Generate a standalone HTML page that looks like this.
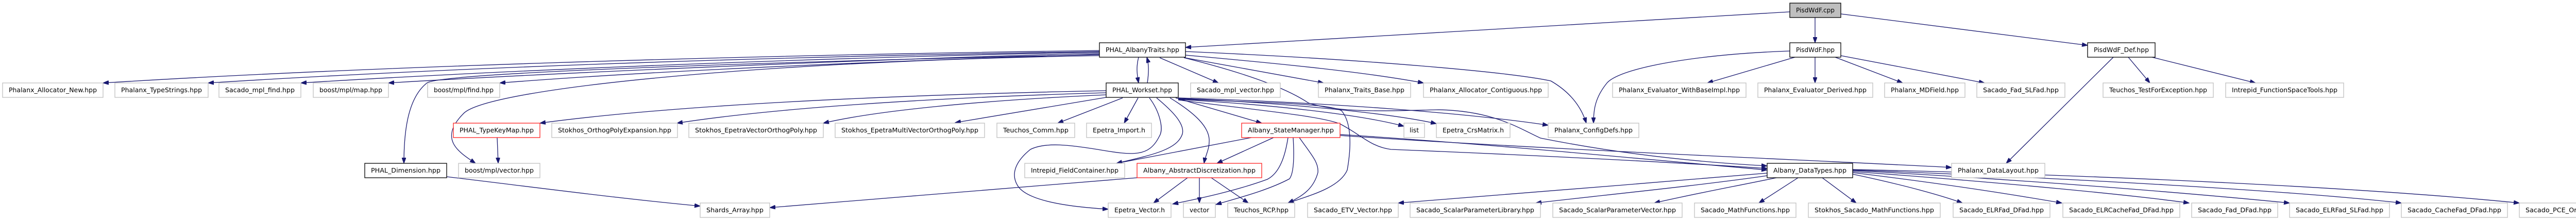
<!DOCTYPE html>
<html><head><meta charset="utf-8"><style>
html,body{margin:0;padding:0;background:#fff;}
svg{display:block;}
rect{fill:#fff;stroke:#bfbfbf;stroke-width:1.3;}
rect.k{stroke:#000;}
rect.r{stroke:#ff2020;}
rect.root{fill:#bfbfbf;stroke:#000;}
text{font-family:"DejaVu Sans","Liberation Sans",sans-serif;font-size:12px;fill:#000;text-anchor:middle;}
path{fill:none;stroke:#191970;stroke-width:1.3;}
</style></head><body>
<svg width="5103" height="427" viewBox="0 0 5103 427" xmlns="http://www.w3.org/2000/svg">
<defs><marker id="a" markerWidth="12" markerHeight="8" refX="11" refY="4" orient="auto" markerUnits="userSpaceOnUse"><path d="M0,0 L11,4 L0,8 Z" style="fill:#191970;stroke:#191970;stroke-width:1"/></marker></defs>
<g marker-end="url(#a)">
<!-- PisdWdF.cpp -->
<path d="M3474,23 L2301,92"/>
<path d="M3523,34 L3523,83"/>
<path d="M3573,27 L4052,88"/>
<!-- AlbanyTraits -> row2 left -->
<path d="M2134,98 C1400,108 700,130 200,161"/>
<path d="M2134,100 C1500,110 900,130 404,161"/>
<path d="M2134,101 C1600,112 1000,135 584,161"/>
<path d="M2134,103 C1700,115 1100,140 754,161"/>
<path d="M2134,105 C1750,118 1300,135 970,161"/>
<path d="M2134,106 C1500,120 880,140 830,160 C790,190 784,260 784,317"/>
<path d="M2134,108 C1500,118 950,170 900,220 C850,270 890,295 923,317"/>
<path d="M2210,111 C2205,130 2207,145 2210,161"/>
<path d="M2251,112 L2365,161"/>
<path d="M2299,112 L2569,161"/>
<path d="M2301,107 C2500,125 2650,140 2763,161"/>
<path d="M2301,100 C2650,115 2930,140 3010,157 C3050,180 3070,210 3079,239"/>
<path d="M2298,112 C2450,150 2510,180 2540,200 C2600,220 2700,215 2792,213 C2900,215 2950,250 2990,268 C3150,300 3300,315 3430,322"/>
<!-- Workset -->
<path d="M2227,161 C2230,140 2230,125 2226,111"/>
<path d="M2147,176 C1700,185 1300,205 1048,239"/>
<path d="M2147,180 C1800,190 1500,210 1314,239"/>
<path d="M2147,184 C1900,195 1700,215 1598,239"/>
<path d="M2147,189 L1854,238"/>
<path d="M2179,190 L2053,239"/>
<path d="M2209,190 L2182,239"/>
<path d="M2231,190 C2250,215 2260,250 2250,265 C2230,305 2200,302 2130,290 C2080,282 2030,275 2000,290 C1975,310 1960,335 1975,360 C1990,385 2050,400 2151,406"/>
<path d="M2245,190 C2275,215 2300,240 2295,260 C2285,290 2240,300 2167,317"/>
<path d="M2271,190 C2320,220 2345,245 2347,270 C2348,290 2340,300 2337,317"/>
<path d="M2282,190 L2449,239"/>
<path d="M2287,192 C2450,200 2580,200 2604,215 C2625,240 2622,290 2615,330 C2600,365 2540,380 2500,394"/>
<path d="M2287,193 C2500,205 2650,225 2725,245"/>
<path d="M2287,191 C2500,200 2700,220 2788,240"/>
<path d="M2287,190 C2600,200 2850,220 3005,243"/>
<path d="M2287,194 C2450,215 2560,225 2600,240 C2640,260 2660,285 2700,290 C2950,300 3250,315 3430,327"/>
<!-- StateManager -->
<path d="M2429,267 L2167,317"/>
<path d="M2472,267 L2362,317"/>
<path d="M2500,267 C2495,300 2485,335 2460,348 C2400,370 2330,385 2276,396"/>
<path d="M2510,267 C2512,300 2512,335 2503,347 C2460,370 2400,385 2360,397"/>
<path d="M2522,267 C2545,300 2560,315 2558,335 C2550,365 2530,380 2500,394"/>
<path d="M2601,261 C2900,280 3200,310 3430,330"/>
<path d="M2601,263 C3000,290 3500,310 3788,325"/>
<!-- AbstractDiscretization -->
<path d="M2305,345 L2239,394"/>
<path d="M2328,345 L2328,394"/>
<path d="M2351,345 L2423,394"/>
<path d="M2207,345 C1900,370 1650,390 1494,403"/>
<!-- others -->
<path d="M867,343 C1050,365 1200,385 1359,400"/>
<path d="M965,267 L967,317"/>
<!-- PisdWdF.hpp -->
<path d="M3474,99 C3300,105 3150,130 3120,160 C3095,190 3093,215 3093,239"/>
<path d="M3484,111 L3314,161"/>
<path d="M3523,111 L3523,161"/>
<path d="M3562,111 L3693,161"/>
<path d="M3573,108 L3852,161"/>
<!-- PisdWdF_Def -->
<path d="M4102,111 L3894,317"/>
<path d="M4131,111 L4173,161"/>
<path d="M4177,111 L4378,161"/>
<!-- DataTypes -> row5 -->
<path d="M3430,336 C3200,355 2900,380 2714,394"/>
<path d="M3430,341 C3300,360 3100,380 2981,394"/>
<path d="M3448,345 C3350,365 3270,380 3211,394"/>
<path d="M3490,345 L3414,394"/>
<path d="M3537,345 L3603,394"/>
<path d="M3596,338 C3700,360 3770,380 3809,394"/>
<path d="M3596,335 C3800,360 3920,380 4002,394"/>
<path d="M3596,333 C3900,355 4150,380 4249,394"/>
<path d="M3596,331 C3950,350 4250,375 4444,394"/>
<path d="M3596,330 C4000,345 4450,370 4661,394"/>
<path d="M3596,329 C4100,340 4600,365 4890,394"/>
</g>
<!-- nodes -->
<rect class="root" x="3474" y="6" width="99" height="28"/><text x="3523.5" y="24" textLength="75" lengthAdjust="spacingAndGlyphs">PisdWdF.cpp</text>
<rect class="k" x="2134" y="83" width="167" height="28"/><text x="2217.5" y="101" textLength="143" lengthAdjust="spacingAndGlyphs">PHAL_AlbanyTraits.hpp</text>
<rect class="k" x="3474" y="83" width="99" height="28"/><text x="3523.5" y="101" textLength="75" lengthAdjust="spacingAndGlyphs">PisdWdF.hpp</text>
<rect class="k" x="4052" y="83" width="131" height="28"/><text x="4117.5" y="101" textLength="107" lengthAdjust="spacingAndGlyphs">PisdWdF_Def.hpp</text>

<rect x="5" y="161" width="195" height="28"/><text x="102.5" y="179" textLength="171" lengthAdjust="spacingAndGlyphs">Phalanx_Allocator_New.hpp</text>
<rect x="223" y="161" width="181" height="28"/><text x="313.5" y="179" textLength="157" lengthAdjust="spacingAndGlyphs">Phalanx_TypeStrings.hpp</text>
<rect x="425" y="161" width="159" height="28"/><text x="504.5" y="179" textLength="135" lengthAdjust="spacingAndGlyphs">Sacado_mpl_find.hpp</text>
<rect x="608" y="161" width="146" height="28"/><text x="681" y="179" textLength="122" lengthAdjust="spacingAndGlyphs">boost/mpl/map.hpp</text>
<rect x="830" y="161" width="140" height="28"/><text x="900" y="179" textLength="116" lengthAdjust="spacingAndGlyphs">boost/mpl/find.hpp</text>
<rect class="k" x="2147" y="161" width="140" height="28"/><text x="2217" y="179" textLength="116" lengthAdjust="spacingAndGlyphs">PHAL_Workset.hpp</text>
<rect x="2311" y="161" width="174" height="28"/><text x="2398" y="179" textLength="150" lengthAdjust="spacingAndGlyphs">Sacado_mpl_vector.hpp</text>
<rect x="2559" y="161" width="179" height="28"/><text x="2648.5" y="179" textLength="155" lengthAdjust="spacingAndGlyphs">Phalanx_Traits_Base.hpp</text>
<rect x="2763" y="161" width="242" height="28"/><text x="2884" y="179" textLength="218" lengthAdjust="spacingAndGlyphs">Phalanx_Allocator_Contiguous.hpp</text>
<rect x="3130" y="161" width="259" height="28"/><text x="3259.5" y="179" textLength="235" lengthAdjust="spacingAndGlyphs">Phalanx_Evaluator_WithBaseImpl.hpp</text>
<rect x="3412" y="161" width="223" height="28"/><text x="3523.5" y="179" textLength="199" lengthAdjust="spacingAndGlyphs">Phalanx_Evaluator_Derived.hpp</text>
<rect x="3658" y="161" width="156" height="28"/><text x="3736" y="179" textLength="132" lengthAdjust="spacingAndGlyphs">Phalanx_MDField.hpp</text>
<rect x="3837" y="161" width="171" height="28"/><text x="3922.5" y="179" textLength="147" lengthAdjust="spacingAndGlyphs">Sacado_Fad_SLFad.hpp</text>
<rect x="4082" y="161" width="214" height="28"/><text x="4189" y="179" textLength="190" lengthAdjust="spacingAndGlyphs">Teuchos_TestForException.hpp</text>
<rect x="4320" y="161" width="229" height="28"/><text x="4434.5" y="179" textLength="205" lengthAdjust="spacingAndGlyphs">Intrepid_FunctionSpaceTools.hpp</text>

<rect class="r" x="880" y="239" width="168" height="28"/><text x="964" y="257" textLength="144" lengthAdjust="spacingAndGlyphs">PHAL_TypeKeyMap.hpp</text>
<rect x="1071" y="239" width="244" height="28"/><text x="1193" y="257" textLength="220" lengthAdjust="spacingAndGlyphs">Stokhos_OrthogPolyExpansion.hpp</text>
<rect x="1337" y="239" width="261" height="28"/><text x="1467.5" y="257" textLength="237" lengthAdjust="spacingAndGlyphs">Stokhos_EpetraVectorOrthogPoly.hpp</text>
<rect x="1621" y="239" width="290" height="28"/><text x="1766" y="257" textLength="266" lengthAdjust="spacingAndGlyphs">Stokhos_EpetraMultiVectorOrthogPoly.hpp</text>
<rect x="1935" y="239" width="151" height="28"/><text x="2010.5" y="257" textLength="127" lengthAdjust="spacingAndGlyphs">Teuchos_Comm.hpp</text>
<rect x="2109" y="239" width="126" height="28"/><text x="2172" y="257" textLength="102" lengthAdjust="spacingAndGlyphs">Epetra_Import.h</text>
<rect class="r" x="2410" y="239" width="191" height="28"/><text x="2505.5" y="257" textLength="167" lengthAdjust="spacingAndGlyphs">Albany_StateManager.hpp</text>
<rect x="2725" y="239" width="40" height="28"/><text x="2745" y="257" textLength="18" lengthAdjust="spacingAndGlyphs">list</text>
<rect x="2788" y="239" width="143" height="28"/><text x="2859.5" y="257" textLength="119" lengthAdjust="spacingAndGlyphs">Epetra_CrsMatrix.h</text>
<rect x="3005" y="239" width="176" height="28"/><text x="3093" y="257" textLength="152" lengthAdjust="spacingAndGlyphs">Phalanx_ConfigDefs.hpp</text>

<rect class="k" x="708" y="317" width="159" height="28"/><text x="787.5" y="335" textLength="135" lengthAdjust="spacingAndGlyphs">PHAL_Dimension.hpp</text>
<rect x="890" y="317" width="158" height="28"/><text x="969" y="335" textLength="134" lengthAdjust="spacingAndGlyphs">boost/mpl/vector.hpp</text>
<rect x="1989" y="317" width="194" height="28"/><text x="2086" y="335" textLength="170" lengthAdjust="spacingAndGlyphs">Intrepid_FieldContainer.hpp</text>
<rect class="r" x="2207" y="317" width="242" height="28"/><text x="2328" y="335" textLength="218" lengthAdjust="spacingAndGlyphs">Albany_AbstractDiscretization.hpp</text>
<rect class="k" x="3430" y="317" width="166" height="28"/><text x="3513" y="335" textLength="142" lengthAdjust="spacingAndGlyphs">Albany_DataTypes.hpp</text>
<rect x="3788" y="317" width="181" height="28"/><text x="3878.5" y="335" textLength="157" lengthAdjust="spacingAndGlyphs">Phalanx_DataLayout.hpp</text>

<rect x="1359" y="394" width="135" height="28"/><text x="1426.5" y="412" textLength="111" lengthAdjust="spacingAndGlyphs">Shards_Array.hpp</text>
<rect x="2151" y="394" width="122" height="28"/><text x="2212" y="412" textLength="98" lengthAdjust="spacingAndGlyphs">Epetra_Vector.h</text>
<rect x="2297" y="394" width="62" height="28"/><text x="2328" y="412" textLength="38" lengthAdjust="spacingAndGlyphs">vector</text>
<rect x="2383" y="394" width="130" height="28"/><text x="2448" y="412" textLength="106" lengthAdjust="spacingAndGlyphs">Teuchos_RCP.hpp</text>
<rect x="2538" y="394" width="176" height="28"/><text x="2626" y="412" textLength="152" lengthAdjust="spacingAndGlyphs">Sacado_ETV_Vector.hpp</text>
<rect x="2737" y="394" width="253" height="28"/><text x="2863.5" y="412" textLength="229" lengthAdjust="spacingAndGlyphs">Sacado_ScalarParameterLibrary.hpp</text>
<rect x="3014" y="394" width="251" height="28"/><text x="3139.5" y="412" textLength="227" lengthAdjust="spacingAndGlyphs">Sacado_ScalarParameterVector.hpp</text>
<rect x="3289" y="394" width="197" height="28"/><text x="3387.5" y="412" textLength="173" lengthAdjust="spacingAndGlyphs">Sacado_MathFunctions.hpp</text>
<rect x="3510" y="394" width="256" height="28"/><text x="3638" y="412" textLength="232" lengthAdjust="spacingAndGlyphs">Stokhos_Sacado_MathFunctions.hpp</text>
<rect x="3791" y="394" width="188" height="28"/><text x="3885" y="412" textLength="164" lengthAdjust="spacingAndGlyphs">Sacado_ELRFad_DFad.hpp</text>
<rect x="4004" y="394" width="227" height="28"/><text x="4117.5" y="412" textLength="203" lengthAdjust="spacingAndGlyphs">Sacado_ELRCacheFad_DFad.hpp</text>
<rect x="4254" y="394" width="167" height="28"/><text x="4337.5" y="412" textLength="143" lengthAdjust="spacingAndGlyphs">Sacado_Fad_DFad.hpp</text>
<rect x="4444" y="394" width="194" height="28"/><text x="4541" y="412" textLength="170" lengthAdjust="spacingAndGlyphs">Sacado_ELRFad_SLFad.hpp</text>
<rect x="4661" y="394" width="206" height="28"/><text x="4764" y="412" textLength="182" lengthAdjust="spacingAndGlyphs">Sacado_CacheFad_DFad.hpp</text>
<rect x="4890" y="394" width="205" height="28"/><text x="4992.5" y="412" textLength="181" lengthAdjust="spacingAndGlyphs">Sacado_PCE_OrthogPoly.hpp</text>
</svg>
</body></html>
